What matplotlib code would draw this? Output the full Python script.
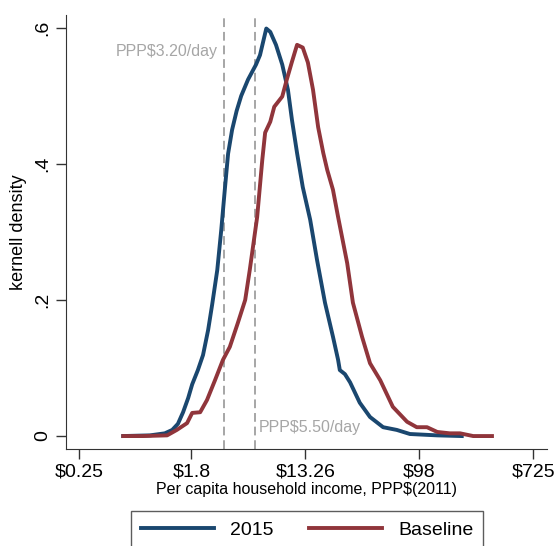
import numpy as np
import matplotlib
matplotlib.use("Agg")
import matplotlib.pyplot as plt

plt.rcParams['font.family'] = ['Liberation Sans', 'DejaVu Sans']

# log of per capita household income (PPP$ 2011) and kernel density
log_inc_2015 = [-0.61, -0.14, 0.12, 0.25, 0.35, 0.44, 0.53, 0.60, 0.70, 0.79,
                0.88, 0.95, 1.04, 1.11, 1.17, 1.23, 1.30, 1.38, 1.46, 1.58,
                1.72, 1.79, 1.90, 1.97, 2.07, 2.18, 2.28, 2.35, 2.44, 2.54,
                2.67, 2.79, 2.93, 3.07, 3.16, 3.19, 3.28, 3.37, 3.54, 3.72,
                3.95, 4.19, 4.42, 4.90, 5.33]
dens_2015 = [0.000, 0.001, 0.004, 0.009, 0.018, 0.035, 0.056, 0.076, 0.097, 0.119,
             0.156, 0.193, 0.244, 0.303, 0.360, 0.415, 0.450, 0.478, 0.500, 0.524,
             0.546, 0.560, 0.599, 0.594, 0.575, 0.546, 0.509, 0.465, 0.416, 0.366,
             0.318, 0.259, 0.196, 0.146, 0.112, 0.097, 0.091, 0.079, 0.049, 0.028,
             0.013, 0.009, 0.003, 0.001, 0.000]

log_inc_base = [-0.61, -0.26, 0.16, 0.33, 0.51, 0.60, 0.74, 0.86, 1.00, 1.14,
                1.26, 1.40, 1.53, 1.61, 1.74, 1.83, 1.88, 1.97, 2.04, 2.18,
                2.26, 2.35, 2.44, 2.54, 2.63, 2.72, 2.81, 2.90, 2.97, 3.07,
                3.16, 3.32, 3.42, 3.58, 3.72, 3.90, 4.12, 4.37, 4.54, 4.72,
                4.90, 5.12, 5.30, 5.53, 5.86]
dens_base = [0.000, 0.000, 0.001, 0.009, 0.019, 0.034, 0.035, 0.053, 0.082, 0.112,
             0.131, 0.166, 0.200, 0.244, 0.322, 0.406, 0.446, 0.462, 0.484, 0.499,
             0.524, 0.550, 0.575, 0.571, 0.549, 0.509, 0.454, 0.416, 0.391, 0.362,
             0.322, 0.254, 0.196, 0.146, 0.107, 0.082, 0.043, 0.021, 0.013, 0.013,
             0.006, 0.004, 0.004, 0.000, 0.000]

tick_dollars = [0.25, 1.8, 13.26, 98, 725]
tick_labels = ['$0.25', '$1.8', '$13.26', '$98', '$725']
poverty_lines = [3.20, 5.50]

blue = '#1a476f'
red = '#90353b'
grey = '#a6a6a6'

fig = plt.figure(figsize=(5.57, 5.46), dpi=100)
ax = fig.add_axes([0.1185, 0.1777, 0.8635, 0.795])

ax.plot(log_inc_2015, dens_2015, color=blue, lw=2.8, label='2015')
ax.plot(log_inc_base, dens_base, color=red, lw=2.8, label='Baseline')

for p in poverty_lines:
    ax.axvline(np.log(p), color=grey, lw=1.4, ls=(0, (4.5, 2.5)), zorder=1)

ax.text(np.log(3.2) - 0.12, 0.565, 'PPP$3.20/day', color=grey, fontsize=11.5,
        ha='right', va='center')
ax.text(np.log(5.5) + 0.06, 0.013, 'PPP$5.50/day', color=grey, fontsize=11.5,
        ha='left', va='center')

ax.set_xlim(-1.614, 6.825)
ax.set_ylim(-0.019, 0.619)
ax.set_xticks(np.log(tick_dollars))
ax.set_xticklabels(tick_labels, fontsize=14)
ax.set_yticks([0, 0.2, 0.4, 0.6])
ax.set_yticklabels(['0', '.2', '.4', '.6'], fontsize=14, rotation=90, va='center')
ax.tick_params(length=7, width=1, color='#333333')

ax.spines['top'].set_visible(False)
ax.spines['right'].set_visible(False)
for s in ['left', 'bottom']:
    ax.spines[s].set_color('#333333')

ax.set_xlabel('Per capita household income, PPP$(2011)', fontsize=11.5, labelpad=1)
ax.set_ylabel('kernell density', fontsize=13, labelpad=5)

fig.legend(loc='upper center', bbox_to_anchor=(0.551, 0.081), ncol=2,
           fontsize=14, frameon=True, fancybox=False, edgecolor='#333333',
           handlelength=3.8, columnspacing=1.8, borderpad=0.5)

fig.savefig('out.png', dpi=100, facecolor='white')
